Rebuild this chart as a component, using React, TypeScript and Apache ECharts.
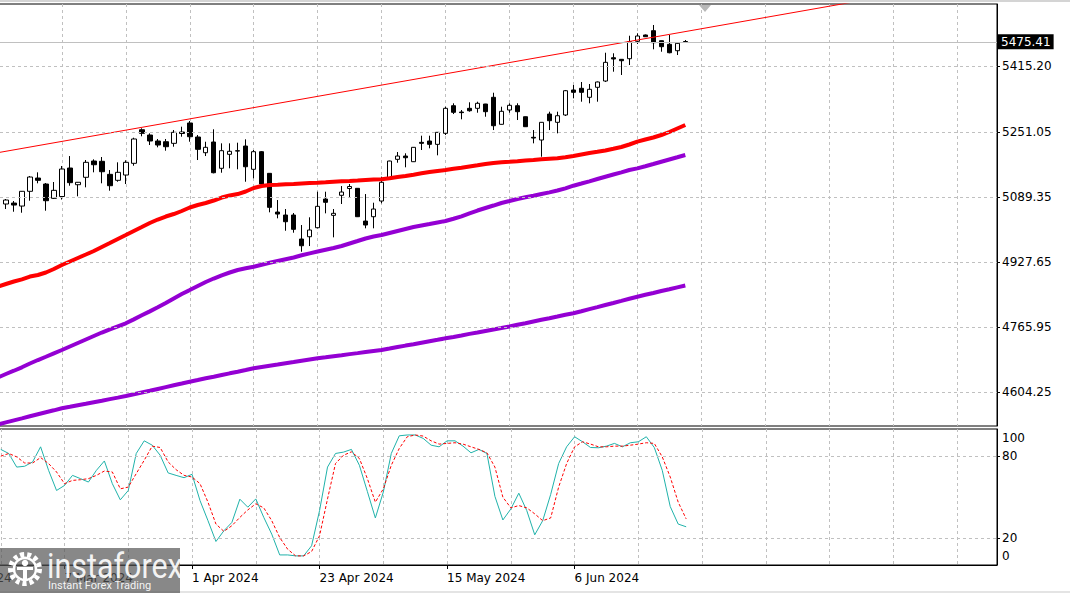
import React, { useEffect, useRef } from "react";
import * as echarts from "echarts";

// ---------- DATA ----------
// trading days shown on the category axis (first one is only partly visible)
const dates: string[] = [
  "14 Feb 2024", "15 Feb 2024", "16 Feb 2024", "19 Feb 2024", "20 Feb 2024", "21 Feb 2024", "22 Feb 2024", "23 Feb 2024",
  "26 Feb 2024", "27 Feb 2024", "28 Feb 2024", "29 Feb 2024", "1 Mar 2024", "4 Mar 2024", "5 Mar 2024", "6 Mar 2024",
  "7 Mar 2024", "8 Mar 2024", "11 Mar 2024", "12 Mar 2024", "13 Mar 2024", "14 Mar 2024", "15 Mar 2024", "18 Mar 2024",
  "19 Mar 2024", "20 Mar 2024", "21 Mar 2024", "22 Mar 2024", "25 Mar 2024", "26 Mar 2024", "27 Mar 2024", "28 Mar 2024",
  "1 Apr 2024", "2 Apr 2024", "3 Apr 2024", "4 Apr 2024", "5 Apr 2024", "8 Apr 2024", "9 Apr 2024", "10 Apr 2024",
  "11 Apr 2024", "12 Apr 2024", "15 Apr 2024", "16 Apr 2024", "17 Apr 2024", "18 Apr 2024", "19 Apr 2024", "22 Apr 2024",
  "23 Apr 2024", "24 Apr 2024", "25 Apr 2024", "26 Apr 2024", "29 Apr 2024", "30 Apr 2024", "1 May 2024", "2 May 2024",
  "3 May 2024", "6 May 2024", "7 May 2024", "8 May 2024", "9 May 2024", "10 May 2024", "13 May 2024", "14 May 2024",
  "15 May 2024", "16 May 2024", "17 May 2024", "20 May 2024", "21 May 2024", "22 May 2024", "23 May 2024", "24 May 2024",
  "27 May 2024", "28 May 2024", "29 May 2024", "30 May 2024", "31 May 2024", "3 Jun 2024", "4 Jun 2024", "5 Jun 2024",
  "6 Jun 2024", "7 Jun 2024", "10 Jun 2024", "11 Jun 2024", "12 Jun 2024", "13 Jun 2024", "14 Jun 2024", "17 Jun 2024",
  "18 Jun 2024", "19 Jun 2024", "20 Jun 2024", "21 Jun 2024", "24 Jun 2024", "25 Jun 2024", "26 Jun 2024",
];
const emptySlotsRight = 39; // chart shift space after the last bar

const candleStart = "27 Feb 2024";
// [open, close, low, high]
const candles: number[][] = [
  [5071.9, 5081.8, 5059.4, 5084.3], [5074.3, 5069.3, 5052.7, 5079.3], [5066.8, 5103.5, 5050.2, 5104.2],
  [5103.5, 5139.0, 5080.1, 5141.5], [5136.5, 5130.8, 5123.4, 5150.7], [5121.6, 5080.1, 5055.2, 5124.1],
  [5086.0, 5105.9, 5084.3, 5126.6], [5090.5, 5158.9, 5083.0, 5166.4], [5161.4, 5125.0, 5117.4, 5191.2],
  [5119.9, 5125.9, 5091.0, 5126.5], [5138.3, 5175.6, 5113.4, 5181.3], [5178.8, 5169.6, 5150.7, 5183.0],
  [5178.1, 5152.2, 5123.4, 5188.8], [5145.7, 5117.4, 5105.0, 5156.4], [5130.8, 5150.7, 5127.3, 5175.6],
  [5144.0, 5175.6, 5121.6, 5180.6], [5173.1, 5233.6, 5167.1, 5236.8], [5256.6, 5247.7, 5240.3, 5260.2],
  [5243.5, 5228.6, 5218.6, 5247.7], [5228.6, 5218.6, 5212.9, 5233.6], [5226.8, 5214.4, 5204.5, 5233.6],
  [5222.8, 5250.2, 5214.4, 5255.9], [5251.0, 5247.3, 5239.3, 5264.2], [5273.4, 5239.3, 5226.8, 5278.3],
  [5238.5, 5207.9, 5181.3, 5243.5], [5199.5, 5212.9, 5191.2, 5226.8], [5226.1, 5149.7, 5148.2, 5257.7],
  [5160.7, 5204.5, 5149.7, 5222.8], [5195.5, 5203.0, 5160.7, 5222.8], [5204.4, 5203.6, 5158.2, 5224.4],
  [5216.1, 5164.6, 5127.3, 5232.8], [5158.2, 5202.0, 5135.8, 5206.2], [5202.0, 5121.6, 5119.1, 5203.7],
  [5148.2, 5063.6, 5051.2, 5148.2], [5051.9, 5046.9, 5036.3, 5081.8], [5044.5, 5027.8, 5005.4, 5059.4],
  [5044.5, 5008.9, 5000.5, 5049.5], [4984.8, 4968.1, 4953.2, 5019.6], [4990.5, 5007.2, 4967.3, 5038.8],
  [5012.9, 5066.1, 5011.4, 5102.5], [5084.3, 5076.1, 5048.7, 5102.5], [5043.7, 5048.7, 4989.0, 5059.4],
  [5093.5, 5101.7, 5071.9, 5116.6], [5110.4, 5115.4, 5088.5, 5121.6], [5110.9, 5040.3, 5039.5, 5111.7],
  [5029.5, 5019.6, 5011.4, 5096.7], [5040.3, 5059.4, 5011.4, 5075.1], [5079.3, 5125.9, 5073.6, 5139.8],
  [5136.5, 5178.8, 5135.0, 5179.5], [5183.0, 5191.2, 5174.6, 5201.2], [5191.2, 5187.0, 5163.2, 5198.0],
  [5177.1, 5212.9, 5176.5, 5213.5], [5225.3, 5222.8, 5206.2, 5241.8], [5228.6, 5220.3, 5210.4, 5241.8],
  [5220.3, 5250.2, 5193.0, 5250.5], [5247.7, 5309.9, 5243.5, 5313.9], [5316.4, 5300.0, 5295.7, 5322.4],
  [5300.7, 5299.2, 5282.6, 5305.7], [5309.9, 5303.9, 5301.5, 5324.9], [5309.9, 5322.4, 5299.0, 5326.4],
  [5320.6, 5301.5, 5289.0, 5321.0], [5337.3, 5266.6, 5255.9, 5348.7], [5270.1, 5302.5, 5269.6, 5313.9],
  [5305.7, 5317.4, 5299.0, 5322.4], [5316.4, 5301.5, 5280.8, 5322.4], [5289.0, 5264.2, 5263.7, 5289.5],
  [5237.8, 5236.0, 5222.8, 5255.9], [5231.1, 5275.1, 5189.5, 5275.5], [5295.7, 5279.1, 5255.9, 5301.5],
  [5275.1, 5291.5, 5247.7, 5301.5], [5293.3, 5353.7, 5290.8, 5355.5], [5355.5, 5349.7, 5334.8, 5367.9],
  [5359.7, 5349.7, 5326.4, 5375.4], [5337.3, 5357.2, 5322.4, 5370.4], [5362.2, 5375.4, 5326.4, 5376.6],
  [5377.8, 5424.3, 5375.4, 5448.2], [5435.8, 5432.6, 5401.0, 5446.8], [5431.8, 5428.3, 5392.8, 5432.6],
  [5433.3, 5475.6, 5417.6, 5490.5], [5476.6, 5489.8, 5469.9, 5496.5], [5492.3, 5488.0, 5487.3, 5493.5],
  [5503.0, 5473.1, 5456.7, 5517.2], [5478.1, 5463.2, 5450.7, 5478.6], [5469.1, 5448.2, 5446.8, 5492.3],
  [5453.2, 5471.6, 5442.5, 5472.4], [5476.1, 5475.41, 5474.1, 5479.8],
];

const indicatorStart = "26 Feb 2024";
const maRed: number[] = [
  4866.2, 4872.9, 4879.1, 4884.6, 4891.5, 4895.3, 4901.5, 4910.2, 4920.1, 4928.8, 4937.5, 4946.2, 4955.0, 4964.9,
  4974.8, 4984.8, 4994.7, 5004.7, 5014.6, 5024.6, 5033.3, 5040.8, 5047.0, 5054.5, 5063.2, 5069.4, 5074.4, 5080.6,
  5088.0, 5093.0, 5096.7, 5103.0, 5111.7, 5116.7, 5119.2, 5119.9, 5120.9, 5121.6, 5122.9, 5124.1, 5124.9, 5125.9,
  5127.1, 5128.3, 5129.1, 5130.3, 5131.6, 5132.8, 5133.6, 5135.8, 5139.0, 5141.5, 5144.8, 5148.2, 5151.5, 5154.0,
  5156.5, 5159.5, 5162.0, 5165.2, 5168.2, 5171.4, 5173.9, 5175.6, 5176.9, 5178.4, 5180.1, 5181.3, 5183.1, 5184.6,
  5185.8, 5188.1, 5191.3, 5195.0, 5198.7, 5201.7, 5205.0, 5209.2, 5213.7, 5219.9, 5226.9, 5232.3, 5237.3, 5243.5,
  5251.0, 5259.7, 5268.4,
];
const maPurpleFast: number[] = [
  4640.3, 4649.0, 4657.2, 4665.7, 4675.1, 4683.8, 4692.0, 4700.5, 4708.7, 4717.4, 4726.1, 4734.8, 4743.5, 4752.2,
  4760.2, 4767.7, 4775.1, 4785.0, 4795.0, 4804.9, 4814.9, 4825.6, 4836.8, 4848.0, 4857.9, 4867.9, 4877.8, 4886.5,
  4894.5, 4901.5, 4907.7, 4911.9, 4915.9, 4920.9, 4925.6, 4930.1, 4934.6, 4938.8, 4944.3, 4949.2, 4953.7, 4958.2,
  4962.4, 4967.4, 4973.6, 4979.8, 4986.1, 4991.0, 4994.7, 4999.7, 5004.7, 5009.7, 5014.6, 5018.4, 5022.1, 5025.9,
  5029.6, 5035.3, 5041.3, 5048.7, 5055.7, 5061.9, 5068.1, 5074.4, 5079.3, 5084.3, 5088.5, 5092.5, 5096.7, 5100.9,
  5105.4, 5110.9, 5117.4, 5122.8, 5128.3, 5134.0, 5139.7, 5145.2, 5150.7, 5156.5, 5160.6, 5165.9, 5171.4, 5177.1,
  5182.6, 5188.1, 5193.8,
];
const maPurpleSlow: number[] = [
  4523.4, 4528.8, 4533.8, 4538.8, 4544.0, 4549.0, 4554.0, 4558.7, 4563.7, 4567.4, 4571.4, 4575.1, 4578.9, 4582.6,
  4586.6, 4590.3, 4594.2, 4598.7, 4603.2, 4607.4, 4611.9, 4616.4, 4620.9, 4625.3, 4629.8, 4634.0, 4638.3, 4642.2,
  4646.5, 4650.7, 4654.7, 4658.9, 4663.2, 4666.4, 4669.6, 4672.6, 4675.9, 4678.8, 4682.1, 4685.1, 4688.0, 4690.5,
  4693.3, 4695.8, 4698.5, 4701.0, 4703.7, 4706.2, 4708.7, 4712.4, 4716.2, 4719.7, 4723.1, 4726.9, 4730.6, 4734.1,
  4737.8, 4741.3, 4745.0, 4748.8, 4752.2, 4756.0, 4759.7, 4763.4, 4767.2, 4771.4, 4775.4, 4779.6, 4783.8, 4787.8,
  4792.0, 4796.3, 4800.2, 4805.2, 4810.4, 4815.4, 4820.6, 4825.6, 4830.8, 4836.1, 4841.3, 4846.0, 4850.7, 4855.5,
  4859.9, 4864.6, 4869.1,
];
const stochK: number[] = [
  85, 82, 72, 72.6, 75.8, 86.9, 69.6, 54.8, 58.5, 65.9, 63.5, 61, 69.6, 76.5, 59.8, 47.9, 54.8, 82, 91.3, 88.1, 80.7,
  67.7, 65.9, 64.2, 66.7, 47.4, 32.6, 17.3, 25.2, 31.3, 48.4, 42.5, 48.6, 35, 22.7, 7.4, 7.4, 6.7, 6.7, 14.1, 40, 72,
  82, 83, 85, 73.3, 54, 34.6, 53.6, 82, 95, 95.6, 95.6, 93.1, 88.1, 86.9, 91.3, 91.3, 87.4, 82.5, 85, 82, 50.5, 33.1,
  41.2, 52.8, 40, 22.2, 32.6, 51.9, 74.6, 86.9, 94.3, 90.6, 86.4, 86.2, 87.4, 89.4, 86.9, 89.9, 90.6, 94.3, 86.4, 69.6,
  43, 30.1, 28.1,
];
const stochD: number[] = [
  80, 82, 79.5, 75, 75, 79, 74.6, 68.4, 59.8, 62.2, 62.7, 63.5, 65.9, 69.1, 68.4, 56, 57.3, 67.2, 77, 87.4, 86.4, 75.8,
  70.1, 65.9, 64.7, 59.8, 46.2, 30.1, 24.7, 28.9, 35, 40.5, 45, 42, 32.6, 20.2, 11.6, 6.7, 6.7, 9.9, 21.5, 48.6, 74.6,
  80.7, 83.2, 78.3, 63.5, 46.2, 56, 73.3, 85.7, 94.3, 95.6, 94.8, 91.3, 88.9, 89.4, 89.9, 88.9, 86.9, 85, 82.5, 72,
  49.9, 42, 43.7, 42, 37.6, 32.6, 34.6, 57.3, 74.6, 86.9, 90.6, 88.9, 86.9, 86.9, 87.4, 87.4, 88.1, 88.9, 89.9, 89.4,
  79.5, 64.7, 46.2, 33.9,
];

// trend line through two anchor points (extended as a ray)
const trendAnchors = [
  { date: "27 Feb 2024", price: 5203.1 },
  { date: "26 Jun 2024", price: 5500.8 },
];

const priceLevels: number[] = [5415.2, 5251.05, 5089.35, 4927.65, 4765.95, 4604.25];
const lastPrice = 5475.41;
const priceMin = 4519.7;
const priceMax = 5569.4;
const stochLabels: number[] = [0, 20, 80, 100];
const stochLevels: number[] = [20, 80];

// ---------- COMPONENT ----------
const FONT = "DejaVu Sans";
const SHIFT = 66; // the chart canvas starts 66px left of the page so the first (partial) date fits

export default function App() {
  const ref = useRef<HTMLDivElement>(null);

  useEffect(() => {
    if (!ref.current) return;
    const chart = echarts.init(ref.current, null, { renderer: "svg" });

    const categories = dates.concat(
      Array.from({ length: emptySlotsRight }, (_, i) => "slot" + (i + 1))
    );
    const nCat = categories.length;
    const cIdx = dates.indexOf(candleStart);
    const iIdx = dates.indexOf(indicatorStart);
    const pad = (arr: any[], n: number, fill: any) => Array(n).fill(fill).concat(arr);

    const candleData = pad(candles, cIdx, "-");
    const red = pad(maRed, iIdx, null);
    const pf = pad(maPurpleFast, iIdx, null);
    const ps = pad(maPurpleSlow, iIdx, null);
    const k = pad(stochK, iIdx, null);
    const d = pad(stochD, iIdx, null);

    const a0 = dates.indexOf(trendAnchors[0].date);
    const a1 = dates.indexOf(trendAnchors[1].date);
    const slope = (trendAnchors[1].price - trendAnchors[0].price) / (a1 - a0);
    const trendAt = (i: number) => trendAnchors[0].price + slope * (i - a0);
    const trendData = [
      [0, trendAt(0)],
      [nCat - 1, trendAt(nCat - 1)],
    ];

    const gridLine = { color: "#c0c0c0", type: [3, 3] as any, width: 1 };
    const labelIdx = (i: number) => i % 16 === 0 && i < dates.length;
    const splitIdx = (i: number) => i % 8 === 0;

    const option: any = {
      animation: false,
      backgroundColor: "#ffffff",
      grid: [
        { left: 0, top: 4, width: 1063, height: 422, show: true, borderColor: "#000", borderWidth: 1, backgroundColor: "#fff" },
        { left: 0, top: 429, width: 1063, height: 136, show: true, borderColor: "#000", borderWidth: 1, backgroundColor: "#fff" },
      ],
      xAxis: [
        {
          gridIndex: 0, type: "category", data: categories, boundaryGap: false,
          axisLine: { show: false }, axisTick: { show: false }, axisLabel: { show: false },
          splitLine: { show: true, interval: splitIdx, lineStyle: gridLine },
        },
        {
          gridIndex: 1, type: "category", data: categories, boundaryGap: false,
          axisLine: { show: true, lineStyle: { color: "#000", width: 1 } },
          axisTick: { show: true, interval: labelIdx, length: 4, lineStyle: { color: "#000" } },
          axisLabel: {
            show: true, interval: labelIdx, align: "left", margin: 7,
            fontFamily: FONT, fontSize: 12, color: "#000",
          },
          splitLine: { show: true, interval: splitIdx, lineStyle: gridLine },
        },
      ],
      yAxis: [
        {
          gridIndex: 0, type: "value", position: "right", min: priceMin, max: priceMax, scale: true,
          splitLine: { show: false },
          axisLine: { show: true, lineStyle: { color: "#000" } },
          axisTick: { show: true, length: 3, customValues: priceLevels, lineStyle: { color: "#000" } },
          axisLabel: {
            customValues: priceLevels, formatter: (v: number) => v.toFixed(2),
            margin: 5, fontFamily: FONT, fontSize: 12, color: "#000",
          },
        },
        {
          gridIndex: 1, type: "value", position: "right", min: 0, max: 100,
          splitLine: { show: false },
          axisLine: { show: true, lineStyle: { color: "#000" } },
          axisTick: { show: true, length: 3, customValues: stochLevels, lineStyle: { color: "#000" } },
          axisLabel: {
            customValues: stochLabels, margin: 5, fontFamily: FONT, fontSize: 12, color: "#000",
            formatter: (v: number) => (v === 100 ? "{t|100}" : v === 0 ? "{b|0}" : String(v)),
            rich: {
              t: { padding: [18, 0, 0, 0], fontFamily: FONT, fontSize: 12, color: "#000" },
              b: { padding: [0, 0, 18, 0], fontFamily: FONT, fontSize: 12, color: "#000" },
            },
          },
        },
      ],
      series: [
        {
          type: "candlestick", name: "US500", xAxisIndex: 0, yAxisIndex: 0, data: candleData,
          barWidth: 5, clip: false, z: 2,
          itemStyle: { color: "#ffffff", color0: "#000000", borderColor: "#000000", borderColor0: "#000000", borderWidth: 1 },
          markLine: {
            silent: true, symbol: ["none", "none"], animation: false,
            label: { show: false }, lineStyle: gridLine,
            data: priceLevels
              .map((v) => ({ yAxis: v }))
              .concat([
                {
                  yAxis: lastPrice,
                  lineStyle: { color: "#c0c0c0", type: "solid", width: 1 },
                  label: {
                    show: true, position: "end", distance: 1, formatter: lastPrice.toFixed(2),
                    backgroundColor: "#000", color: "#fff", padding: [2, 3, 1, 3],
                    fontFamily: FONT, fontSize: 12,
                  },
                } as any,
              ]),
          },
        },
        { type: "line", name: "MA red", xAxisIndex: 0, yAxisIndex: 0, data: red, showSymbol: false, z: 4, lineStyle: { color: "#ff0000", width: 4 }, itemStyle: { color: "#ff0000" } },
        { type: "line", name: "MA purple 1", xAxisIndex: 0, yAxisIndex: 0, data: pf, showSymbol: false, z: 4, lineStyle: { color: "#9400d3", width: 4 }, itemStyle: { color: "#9400d3" } },
        { type: "line", name: "MA purple 2", xAxisIndex: 0, yAxisIndex: 0, data: ps, showSymbol: false, z: 4, lineStyle: { color: "#9400d3", width: 4 }, itemStyle: { color: "#9400d3" } },
        { type: "line", name: "Trend", xAxisIndex: 0, yAxisIndex: 0, data: trendData, showSymbol: false, z: 3, lineStyle: { color: "#ff0000", width: 1 }, itemStyle: { color: "#ff0000" } },
        {
          type: "line", name: "%K", xAxisIndex: 1, yAxisIndex: 1, data: k, showSymbol: false, z: 4,
          lineStyle: { color: "#20b2aa", width: 1 }, itemStyle: { color: "#20b2aa" },
          markLine: {
            silent: true, symbol: ["none", "none"], label: { show: false }, lineStyle: gridLine,
            data: stochLevels.map((v) => ({ yAxis: v })),
          },
        },
        { type: "line", name: "%D", xAxisIndex: 1, yAxisIndex: 1, data: d, showSymbol: false, z: 5, lineStyle: { color: "#ff0000", width: 1, type: [3, 2] }, itemStyle: { color: "#ff0000" } },
      ],
      graphic: [
        {
          type: "group", x: SHIFT, y: 0, z: 100,
          children: [
            { type: "rect", shape: { x: 0, y: 0, width: 1070, height: 2 }, style: { fill: "#d4d4d4" }, z: 100 },
            { type: "rect", shape: { x: 0, y: 591, width: 1070, height: 2 }, style: { fill: "#e4e4e4" }, z: 100 },
            { type: "polygon", shape: { points: [[699, 5], [711, 5], [705, 12]] }, style: { fill: "#b8b8b8" }, z: 100 },
            { type: "rect", shape: { x: 0, y: 548, width: 180, height: 45 }, style: { fill: "rgba(85,85,85,0.7)" }, z: 100 },
            { type: "circle", shape: { cx: 25, cy: 569, r: 14.5 }, style: { fill: "none", stroke: "#fff", lineWidth: 5, lineDash: [4, 3] }, z: 101 },
            { type: "circle", shape: { cx: 25, cy: 569, r: 11 }, style: { fill: "none", stroke: "#fff", lineWidth: 2.5 }, z: 101 },
            { type: "circle", shape: { cx: 25, cy: 563, r: 3.2 }, style: { fill: "#fff" }, z: 101 },
            { type: "rect", shape: { x: 23, y: 567.5, width: 4, height: 13 }, style: { fill: "#fff" }, z: 101 },
            { type: "rect", shape: { x: 17, y: 567, width: 16, height: 3 }, style: { fill: "#fff" }, z: 101 },
            {
              type: "text", x: 47, y: 566, scaleX: 0.87, z: 101,
              style: { text: "instaforex", fill: "rgba(255,255,255,0.92)", font: "35px Roboto", verticalAlign: "middle", align: "left" },
            },
            {
              type: "text", x: 48, y: 585, z: 101,
              style: { text: "Instant Forex Trading", fill: "rgba(255,255,255,0.92)", font: "11px Roboto", verticalAlign: "middle", align: "left" },
            },
          ],
        },
      ],
    };

    chart.setOption(option);
    return () => chart.dispose();
  }, []);

  return (
    <div
      ref={ref}
      style={{ position: "fixed", left: -SHIFT, top: 0, width: 1070 + SHIFT, height: 593, background: "#fff" }}
    />
  );
}
